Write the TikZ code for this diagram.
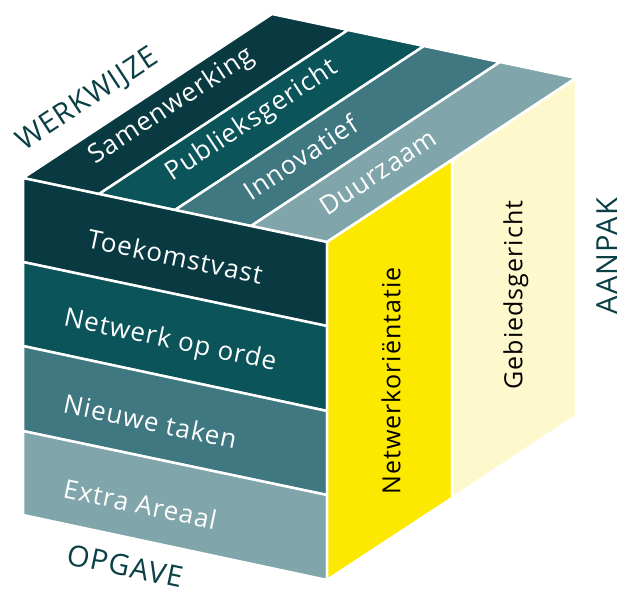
\documentclass[tikz,border=0pt]{standalone}
\usepackage{fontspec}
\setmainfont{Open Sans}[LetterSpace=4]
\definecolor{tealA}{HTML}{0A3A41}
\definecolor{tealB}{HTML}{0B5459}
\definecolor{tealC}{HTML}{3F7880}
\definecolor{tealD}{HTML}{80A6AB}
\definecolor{yelA}{HTML}{FDE800}
\definecolor{yelB}{HTML}{FEF9CC}
\definecolor{darktxt}{HTML}{0A3F45}
\begin{document}
\begin{tikzpicture}[x=1pt,y=-1pt,
  face/.style={draw=white,line width=2.5pt,line join=bevel},
  lbl/.style={text=white,inner sep=0pt,font=\fontsize{26}{26}\selectfont},
  side/.style={text=black,inner sep=0pt,rotate=90,font=\fontsize{25}{25}\selectfont},
  title/.style={text=darktxt,inner sep=0pt,font=\fontsize{29}{29}\selectfont}]
\useasboundingbox (0,0) rectangle (622,590);
% top face
\fill[tealA,face] (23,178) -- (99,194) -- (348,30) -- (272,14) -- cycle;
\fill[tealB,face] (99,194) -- (175,210) -- (424,46) -- (348,30) -- cycle;
\fill[tealC,face] (175,210) -- (251,226) -- (500,62) -- (424,46) -- cycle;
\fill[tealD,face] (251,226) -- (327,242) -- (576,78) -- (500,62) -- cycle;
% front face
\fill[tealA,face] (23,178) -- (327,242) -- (327,326) -- (23,262) -- cycle;
\fill[tealB,face] (23,262) -- (327,326) -- (327,411) -- (23,346) -- cycle;
\fill[tealC,face] (23,346) -- (327,411) -- (327,495) -- (23,431) -- cycle;
\fill[tealD,face] (23,431) -- (327,495) -- (327,580) -- (23,515) -- cycle;
% right face
\fill[yelA,face] (327,242) -- (452,160) -- (452,498) -- (327,580) -- cycle;
\fill[yelB,face] (452,160) -- (576,78) -- (576,416) -- (452,498) -- cycle;
% labels top
\node[lbl,rotate=33.4,anchor=west] (samen) at (92,159) {Samenwerking};
\node[lbl,rotate=33.4,anchor=west] (publiek) at (169,176) {Publieksgericht};
\node[lbl,rotate=33.4,anchor=west] (innov) at (246,193) {Innovatief};
\node[lbl,rotate=33.4,anchor=west] (duur) at (322,209) {Duurzaam};
% labels front
\node[lbl,rotate=-11.9,anchor=west] (toek) at (88,238) {Toekomstvast};
\node[lbl,rotate=-11.9,anchor=west] (netw) at (64,319) {Netwerk op orde};
\node[lbl,rotate=-11.9,anchor=west] (nieuw) at (64,403) {Nieuwe taken};
\node[lbl,rotate=-11.9,anchor=west] (extra) at (64,488) {Extra Areaal};
% labels right
\node[side] (netor) at (391,381) {Netwerkoriëntatie};
\node[side] (gebied) at (516,295) {Gebiedsgericht};
% titles
\node[title,rotate=33.4] (werk) at (88,100) {WERKWIJZE};
\node[title,rotate=-11.9] (opg) at (125,566) {OPGAVE};
\node[title,rotate=90] (aanpak) at (607,256) {AANPAK};
\end{tikzpicture}
\end{document}
